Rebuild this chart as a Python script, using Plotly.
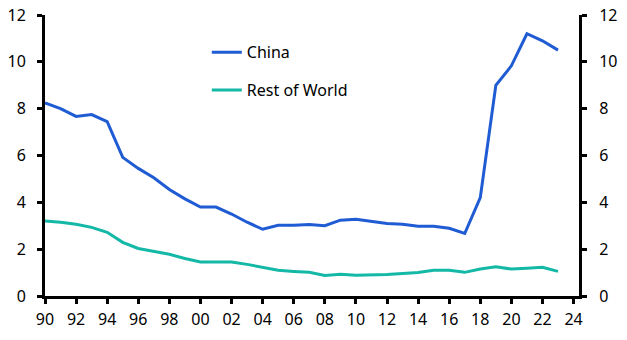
import plotly.graph_objects as go

# Annual values, 1990-2023
years = list(range(1990, 2024))
china = [8.25, 8.0, 7.67, 7.75, 7.45, 5.92, 5.45, 5.05, 4.55, 4.15,
         3.8, 3.8, 3.5, 3.15, 2.85, 3.02, 3.02, 3.05, 3.0, 3.24,
         3.28, 3.2, 3.1, 3.06, 2.98, 2.98, 2.89, 2.67, 4.2, 9.0,
         9.83, 11.2, 10.9, 10.5]
rest_of_world = [3.2, 3.15, 3.06, 2.93, 2.72, 2.29, 2.03, 1.9, 1.78, 1.6,
                 1.45, 1.45, 1.45, 1.35, 1.22, 1.1, 1.05, 1.01, 0.88, 0.93,
                 0.89, 0.89, 0.92, 0.96, 1.0, 1.1, 1.1, 1.01, 1.15, 1.25,
                 1.15, 1.19, 1.23, 1.05]

x_tickvals = list(range(1990, 2025, 2))
x_ticktext = [f"{v % 100:02d}" for v in x_tickvals]
y_tickvals = [0, 2, 4, 6, 8, 10, 12]

FONT = "Noto Sans"
BLUE = "#1F5BD3"
TEAL = "#14B8A6"

fig = go.Figure()
fig.add_trace(go.Scatter(x=years, y=china, name="China", mode="lines",
                         legendgroup="china",
                         line=dict(color=BLUE, width=3)))
fig.add_trace(go.Scatter(x=years, y=rest_of_world, name="Rest of World", mode="lines",
                         legendgroup="row",
                         line=dict(color=TEAL, width=3)))
# invisible trace to carry the right-hand axis
fig.add_trace(go.Scatter(x=[years[0]], y=[0], yaxis="y2", showlegend=False,
                         mode="markers", marker=dict(opacity=0), hoverinfo="skip"))

axis_common = dict(showgrid=False, zeroline=False, showline=True, linecolor="black",
                   linewidth=3, ticks="outside", ticklen=5, tickwidth=3, tickcolor="black",
                   automargin=False,
                   tickfont=dict(family=FONT, size=16, color="black"))

fig.update_layout(
    width=627, height=340,
    margin=dict(l=45, r=48, t=15, b=44),
    paper_bgcolor="white", plot_bgcolor="white",
    font=dict(family=FONT, size=16, color="black"),
    xaxis=dict(range=[1990, 2024.35], tickvals=x_tickvals, ticktext=x_ticktext,
               ticklabelstandoff=2, **axis_common),
    yaxis=dict(range=[0, 12], tickvals=y_tickvals, ticklabelstandoff=8, **axis_common),
    yaxis2=dict(range=[0, 12], tickvals=y_tickvals, overlaying="y", side="right",
                ticklabelstandoff=9, **axis_common),
    legend=dict(x=0.303, y=0.928, xanchor="left", yanchor="top",
                bgcolor="rgba(0,0,0,0)", traceorder="grouped", tracegroupgap=14,
                font=dict(family=FONT, size=16, color="black")),
    showlegend=True,
)

fig.write_html("out.html")
